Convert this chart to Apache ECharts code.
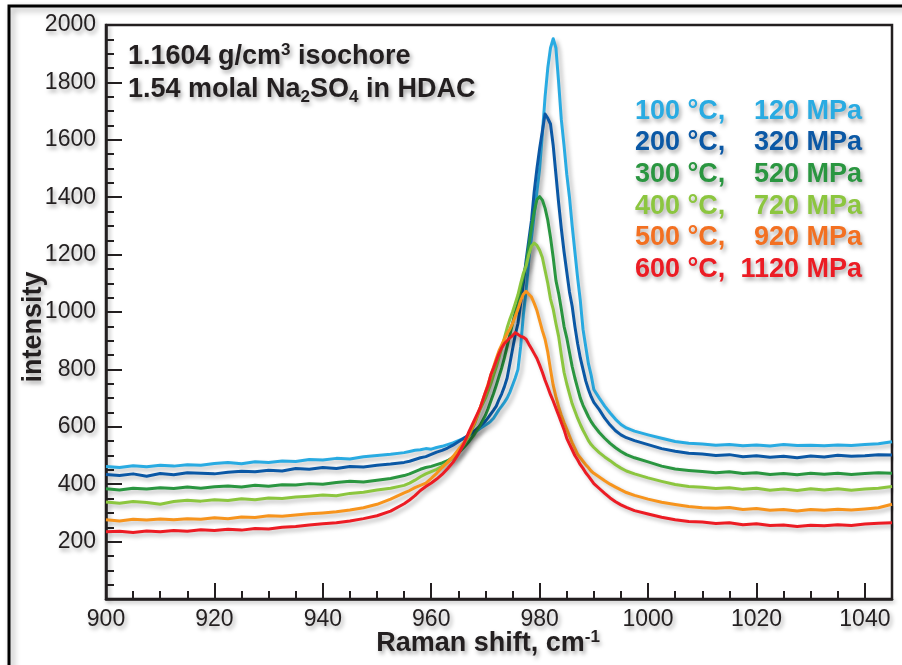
<!DOCTYPE html>
<html>
<head>
<meta charset="utf-8">
<script src="https://cdn.jsdelivr.net/npm/echarts@6/dist/echarts.min.js"></script>
<style>
html,body{margin:0;padding:0;background:#fff;}
#chart{width:902px;height:665px;}
</style>
</head>
<body>
<div id="chart"></div>
<script>
// Raman shift (cm-1)
const ramanShift = [
  900, 902.5, 905, 907.5, 910, 912.5, 915, 917.5, 920, 922.5, 925, 927.5, 930, 932.5, 935, 937.5, 940, 942.5, 945, 947.5, 950, 952.5,
  955, 956, 957, 958, 959, 960, 961, 962, 963, 964, 965, 966, 967, 968, 969,
  970, 970.5, 971, 971.5, 972, 972.5, 973, 973.5, 974, 974.5,
  975, 975.5, 976, 976.5, 977, 977.5, 978, 978.5, 979, 979.5,
  980, 980.5, 981, 981.5, 982, 982.5, 983, 983.5, 984, 984.5,
  985, 985.5, 986, 986.5, 987, 987.5, 988, 988.5, 989, 989.5,
  990,
  991, 992, 993, 994, 995, 996,
  997.5, 1000, 1002.5, 1005, 1007.5, 1010, 1012.5, 1015, 1017.5, 1020,
  1022.5, 1025, 1027.5, 1030, 1032.5, 1035, 1037.5, 1040, 1042.5, 1045
];

const int100 = [
  462, 458, 464, 461, 466, 463, 468, 466, 472, 476, 471, 478, 476, 481, 479, 486, 484, 490, 488, 496, 500, 504,
  510, 514, 518, 520, 524, 522, 528, 532, 538, 544, 552, 560, 570, 580, 594,
  606, 612, 620, 630, 645, 660, 672, 685, 700, 720,
  745, 770, 800, 880, 990, 1075, 1180, 1260, 1340, 1420,
  1500, 1620, 1750, 1850, 1920, 1952, 1920, 1800, 1670, 1580,
  1480, 1400, 1300, 1210, 1120, 1040, 940, 880, 820, 780,
  730,
  700, 672, 648, 626, 608, 596,
  585, 572, 560, 549, 543, 540, 536, 538, 534, 537,
  533, 538, 535, 536, 534, 537, 535, 538, 541, 548
];

const int200 = [
  434, 430, 436, 428, 437, 433, 440, 438, 436, 442, 445, 443, 449, 446, 455, 452, 458, 455, 462, 460, 466, 470,
  476, 480, 486, 492, 496, 504, 512, 518, 526, 536, 548, 560, 572, 586, 602,
  620, 632, 645, 658, 672, 695, 715, 740, 770, 820,
  870, 920, 960, 1030, 1100, 1180, 1250, 1320, 1420, 1500,
  1570, 1630, 1690, 1675, 1655, 1580, 1480, 1380, 1290, 1210,
  1140, 1070, 1020, 950, 890, 840, 800, 760, 730, 705,
  685,
  660, 630, 606, 586, 572, 562,
  552, 538, 524, 515, 508, 505, 500, 503, 496, 499,
  494, 497, 492, 498, 495, 501, 497, 499, 503, 502
];

const int300 = [
  384, 380, 386, 383, 388, 385, 390, 386, 391, 394, 390, 396, 393, 398, 397, 402, 400, 406, 410, 408, 414, 420,
  430, 436, 444, 452, 458, 462, 468, 474, 482, 494, 508, 528, 550, 575, 605,
  640, 664, 690, 716, 745, 775, 805, 840, 880, 920,
  960, 1000, 1030, 1080, 1125, 1165, 1230, 1295, 1350, 1392,
  1402, 1390, 1362, 1320, 1260, 1190, 1110, 1065, 1010, 950,
  910, 860, 810, 770, 735, 700, 675, 655, 635, 618,
  604,
  580, 560, 542, 527, 514, 503,
  492, 478, 463, 453, 448, 444, 440, 443, 437, 440,
  434, 437, 433, 438, 435, 438, 434, 437, 440, 438
];

const int400 = [
  338, 334, 340, 336, 330, 340, 344, 341, 346, 343, 349, 346, 352, 350, 355, 358, 362, 360, 368, 372, 380, 386,
  396, 404, 414, 426, 436, 444, 452, 462, 476, 492, 512, 538, 570, 610, 660,
  700, 725, 750, 780, 808, 840, 875, 910, 945, 975,
  1000, 1030, 1060, 1100, 1135, 1160, 1200, 1230, 1240, 1232,
  1215, 1190, 1145, 1100, 1045, 1010, 960, 915, 850, 790,
  750, 715, 680, 655, 630, 608, 588, 570, 552, 538,
  528,
  510, 495, 482, 468, 456, 446,
  436, 422, 410, 399, 392, 389, 385, 388, 382, 386,
  379, 383, 378, 384, 380, 384, 379, 383, 386, 392
];

const int500 = [
  276, 272, 278, 275, 279, 276, 280, 278, 283, 280, 286, 284, 290, 288, 293, 297, 300, 304, 310, 318, 330, 348,
  370, 378, 388, 396, 404, 420, 438, 458, 476, 496, 520, 545, 575, 615, 665,
  720, 750, 780, 808, 838, 865, 885, 905, 925, 940,
  960, 985, 1010, 1040, 1062, 1072, 1062, 1052, 1030, 1005,
  970, 935, 905, 860, 800, 745, 705, 670, 640, 615,
  592, 568, 545, 525, 505, 492, 480, 468, 458, 446,
  438,
  425, 412, 400, 390, 380, 371,
  361, 348, 337, 329, 322, 318, 316, 319, 312, 315,
  309, 312, 307, 312, 309, 313, 310, 314, 318, 330
];

const int600 = [
  234, 236, 232, 237, 234, 239, 236, 241, 239, 243, 240, 246, 244, 250, 253, 258, 262, 266, 272, 280, 290, 306,
  332, 345, 360, 378, 392, 404, 418, 434, 454, 476, 505, 540, 585, 625, 665,
  720, 745, 782, 805, 830, 855, 875, 890, 900, 910,
  918, 928, 922, 915, 912, 905, 888, 872, 855, 838,
  815, 790, 762, 738, 712, 690, 665, 640, 615, 590,
  560, 540, 520, 500, 485, 468, 455, 440, 428, 415,
  402,
  385, 368, 352, 339, 328, 319,
  308, 296, 285, 276, 270, 268, 263, 266, 259, 262,
  256, 258, 253, 257, 255, 259, 256, 261, 264, 266
];

const seriesValues = [int100, int200, int300, int400, int500, int600];
const seriesNames = ['100 °C, 120 MPa', '200 °C, 320 MPa', '300 °C, 520 MPa', '400 °C, 720 MPa', '500 °C, 920 MPa', '600 °C, 1120 MPa'];
const legendTemps = ['100 °C,', '200 °C,', '300 °C,', '400 °C,', '500 °C,', '600 °C,'];
const legendPressures = ['120 MPa', '320 MPa', '520 MPa', '720 MPa', '920 MPa', '1120 MPa'];
const lineColors = ['#29abe2', '#0b58a5', '#2a9640', '#8cc63f', '#f7941d', '#ec1c24'];
const textColors = ['#29abe2', '#0b58a5', '#2a9640', '#8cc63f', '#f37021', '#ec1c24'];
const xTicks = [900, 920, 940, 960, 980, 1000, 1020, 1040];
const yTicks = [200, 400, 600, 800, 1000, 1200, 1400, 1600, 1800, 2000];

const FONT = '"Liberation Sans", Arial, Helvetica, sans-serif';
const INK = '#231f20';
const BIG = 27;
const SMALL = 17;
const TS = { textShadowColor: 'rgba(0,0,0,0.35)', textShadowBlur: 4, textShadowOffsetX: 2, textShadowOffsetY: 3 };
const LS = { shadowColor: 'rgba(0,0,0,0.28)', shadowBlur: 4, shadowOffsetX: 3, shadowOffsetY: 3 };

const chart = echarts.init(document.getElementById('chart'), null, { renderer: 'canvas' });

const series = seriesValues.map((vals, i) => ({
  name: seriesNames[i],
  type: 'line',
  xAxisIndex: 0,
  yAxisIndex: 0,
  showSymbol: false,
  symbol: 'none',
  animation: false,
  data: ramanShift.map((x, j) => [x, vals[j]]),
  lineStyle: Object.assign({ color: lineColors[i], width: 3, join: 'round' }, LS),
  z: 2 + i
}));

function richNormal() {
  return Object.assign({ fontSize: BIG, fontWeight: 'bold', fontFamily: FONT, fill: INK, lineHeight: 31 }, TS);
}
function richSmall(va) {
  return Object.assign({ fontSize: SMALL, fontWeight: 'bold', fontFamily: FONT, fill: INK, lineHeight: SMALL, verticalAlign: va }, TS);
}

const graphics = [
  {
    type: 'rect', silent: true, z: 0,
    shape: { x: 9, y: 6, width: 1200, height: 1200 },
    style: { fill: 'none', stroke: '#000', lineWidth: 3, shadowColor: 'rgba(0,0,0,0.35)', shadowBlur: 6, shadowOffsetX: 3, shadowOffsetY: 3 }
  },
  {
    type: 'text', z: 10, silent: true,
    style: Object.assign({
      x: 128, y: 57, verticalAlign: 'middle', align: 'left',
      text: '{n|1.1604 g/cm}{sup|3}{n| isochore}',
      rich: { n: richNormal(), sup: richSmall('top') }
    }, TS)
  },
  {
    type: 'text', z: 10, silent: true,
    style: Object.assign({
      x: 128, y: 90, verticalAlign: 'middle', align: 'left',
      text: '{n|1.54 molal Na}{sub|2}{n|SO}{sub|4}{n| in HDAC}',
      rich: { n: richNormal(), sub: richSmall('bottom') }
    }, TS)
  },
  {
    type: 'text', z: 10, silent: true,
    style: Object.assign({
      x: 488, y: 644, verticalAlign: 'middle', align: 'center',
      text: '{n|Raman shift, cm}{sup|-1}',
      rich: { n: richNormal(), sup: richSmall('top') }
    }, TS)
  },
  {
    type: 'text', z: 10, silent: true,
    x: 34, y: 327, rotation: Math.PI / 2,
    style: Object.assign({
      x: 0, y: 0, verticalAlign: 'middle', align: 'center',
      text: 'intensity', fontSize: BIG, fontWeight: 'bold', fontFamily: FONT, fill: INK
    }, TS)
  }
];

const legendY = [112, 143, 175, 207, 238, 270];
legendTemps.forEach((t, i) => {
  graphics.push({
    type: 'text', z: 10, silent: true,
    style: Object.assign({ x: 635, y: legendY[i], verticalAlign: 'middle', align: 'left', text: t, fontSize: BIG, fontWeight: 'bold', fontFamily: FONT, fill: textColors[i] }, TS)
  });
  graphics.push({
    type: 'text', z: 10, silent: true,
    style: Object.assign({ x: 862, y: legendY[i], verticalAlign: 'middle', align: 'right', text: legendPressures[i], fontSize: BIG, fontWeight: 'bold', fontFamily: FONT, fill: textColors[i] }, TS)
  });
});

const axisLineStyle = { color: INK, width: 2.5, shadowColor: 'rgba(0,0,0,0.3)', shadowBlur: 4, shadowOffsetX: 2, shadowOffsetY: 2 };

chart.setOption({
  animation: false,
  backgroundColor: '#ffffff',
  grid: {
    left: 106, right: 10, top: 25, bottom: 66,
    show: true, borderColor: INK, borderWidth: 2.5, backgroundColor: 'transparent',
    containLabel: false
  },
  xAxis: [
    {
      type: 'value', min: 900, max: 1045, interval: 20,
      axisLine: { show: true, onZero: false, lineStyle: axisLineStyle },
      axisTick: { show: true, inside: true, length: 16, lineStyle: { color: INK, width: 2 } },
      axisLabel: Object.assign({
        show: true, margin: 9, fontSize: 23, fontFamily: FONT, color: INK, showMaxLabel: false,
        formatter: v => (xTicks.indexOf(v) >= 0 ? String(v) : '')
      }, TS),
      splitLine: { show: false }
    },
    {
      type: 'value', min: 900, max: 1045, interval: 5, position: 'bottom',
      axisLine: { show: false, onZero: false },
      axisTick: { show: true, inside: true, length: 8, lineStyle: { color: INK, width: 2 } },
      axisLabel: { show: false },
      splitLine: { show: false }
    }
  ],
  yAxis: {
    type: 'value', min: 0, max: 2000, interval: 200,
    axisLine: { show: true, onZero: false, lineStyle: axisLineStyle },
    axisTick: { show: true, inside: true, length: 16, lineStyle: { color: INK, width: 2 } },
    minorTick: { show: true, splitNumber: 4, length: 8, lineStyle: { color: INK, width: 2 } },
    axisLabel: Object.assign({
      show: true, margin: 10, fontSize: 23, fontFamily: FONT, color: INK, showMinLabel: false,
      formatter: v => (yTicks.indexOf(v) >= 0 ? String(v) : '')
    }, TS),
    splitLine: { show: false },
    minorSplitLine: { show: false }
  },
  series: series,
  graphic: graphics
});
</script>
</body>
</html>
